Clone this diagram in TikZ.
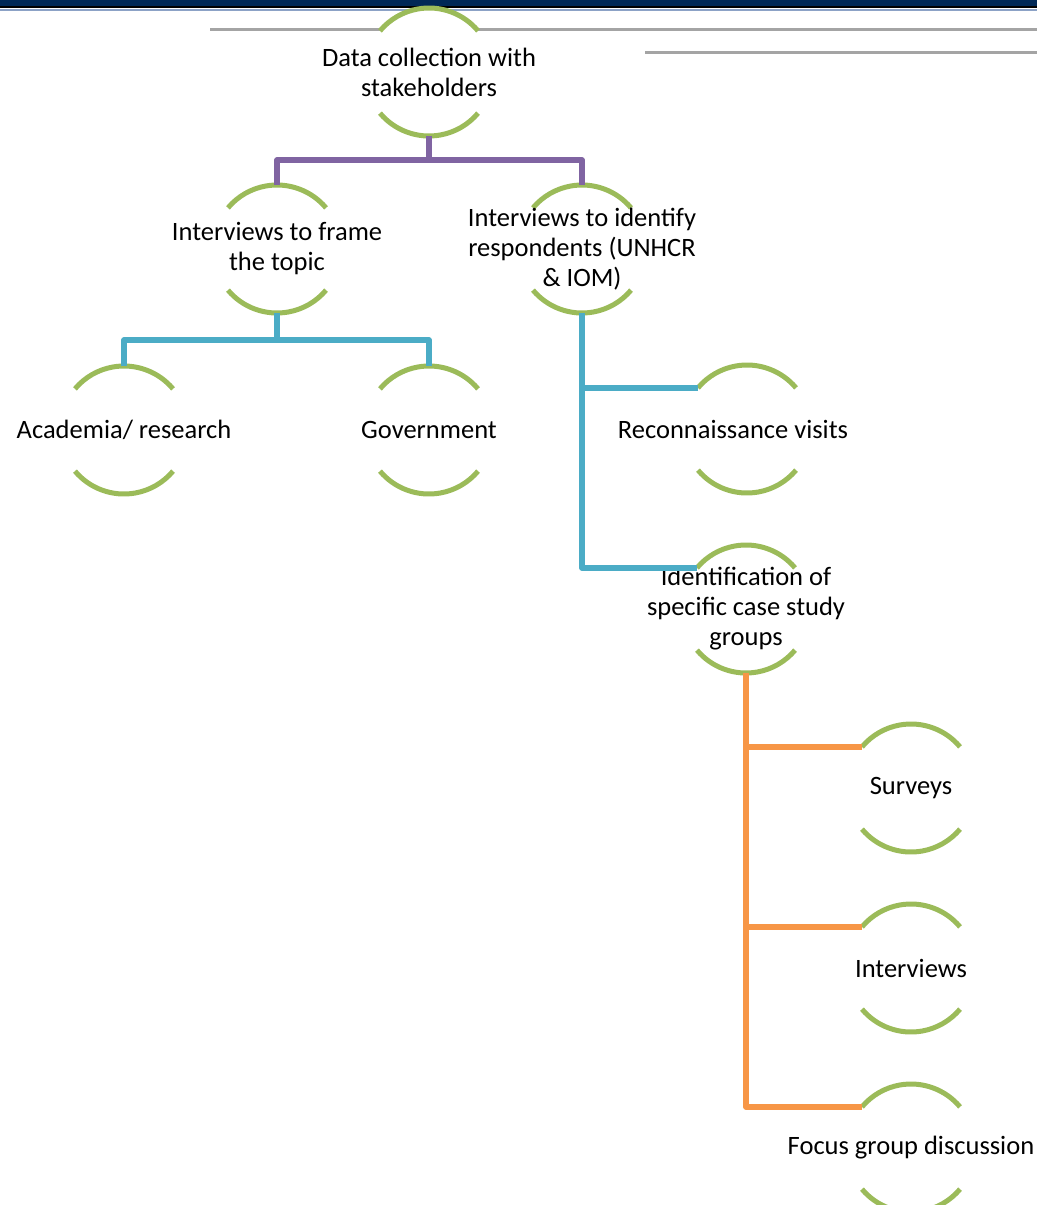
\documentclass[tikz,border=0pt]{standalone}
\usepackage{fontspec}
\setmainfont{Carlito}
\usepackage{tikz}
\usetikzlibrary{arrows.meta, calc}
\definecolor{ringgreen}{HTML}{9BBB59}
\definecolor{treepurple}{HTML}{8064A2}
\definecolor{treeblue}{HTML}{4BACC6}
\definecolor{treeorange}{HTML}{F79646}
\definecolor{barnavy}{HTML}{002856}
\definecolor{barpale}{HTML}{8CA2C6}
\definecolor{rulegray}{HTML}{A4A4A4}
\tikzset{
  ring/.style={circle, minimum size=128pt, inner sep=0pt, outer sep=0pt, fill=white},
  lbl/.style={align=center, font=\fontsize{26.5}{30}\selectfont, inner sep=0pt},
  halfring/.style={ringgreen, line width=5pt},
  branch/.style={line width=5.5pt, line join=round},
  rule/.style={rulegray, line width=3pt}
}

\begin{document}
\begin{tikzpicture}[x=1pt,y=1pt]
  \useasboundingbox (0,0) rectangle (1037,-1205);
  \fill[barnavy] (0,0) rectangle (1037,-6);
  \fill[black] (0,-6) rectangle (1037,-8);
  \fill[barpale] (0,-8.5) rectangle (1037,-10.5);
  \draw[rule] (210,-29) -- (1037,-29);
  \draw[rule] (645,-52) -- (1037,-52);

  \node[ring] (dcs) at (429,-72) {};
  \node[ring] (frame) at (277,-249) {};
  \node[ring] (ident) at (582,-249) {};
  \node[ring] (acad) at (124,-430) {};
  \node[ring] (gov) at (429,-430) {};
  \node[ring] (recon) at (747,-429) {};
  \node[ring] (cases) at (746,-609) {};
  \node[ring] (surv) at (911,-788) {};
  \node[ring] (intv) at (911,-968) {};
  \node[ring] (focus) at (911,-1148) {};

  \foreach \n in {dcs,frame,ident,acad,gov,recon,cases,surv,intv,focus}{
    \draw[halfring] (\n.40) arc[start angle=40, end angle=140, radius=64];
    \draw[halfring] (\n.220) arc[start angle=220, end angle=320, radius=64];
  }

  \node[lbl] (dcstxt) at (dcs) {Data collection with\\stakeholders};
  \node[lbl] (frametxt) at (frame) {Interviews to frame\\the topic};
  \node[lbl] (identtxt) at (ident) {Interviews to identify\\respondents (UNHCR\\\& IOM)};
  \node[lbl] (acadtxt) at (acad) {Academia/ research};
  \node[lbl] (govtxt) at (gov) {Government};
  \node[lbl] (recontxt) at ([xshift=-14]recon.center) {Reconnaissance visits};
  \node[lbl] (casestxt) at (cases) {Identification of\\specific case study\\groups};
  \node[lbl] (survtxt) at (surv) {Surveys};
  \node[lbl] (intvtxt) at (intv) {Interviews};
  \node[lbl] (focustxt) at (focus) {Focus group discussion};

  \draw[branch, treepurple] (dcs.south) -- ++(0,-24) -| (frame.north);
  \draw[branch, treepurple] (dcs.south) -- ++(0,-24) -| (ident.north);
  \draw[branch, treeblue] (frame.south) -- ++(0,-27) -| (acad.north);
  \draw[branch, treeblue] (frame.south) -- ++(0,-27) -| (gov.north);
  \draw[branch, treeblue] (ident.south) |- (recon.140);
  \draw[branch, treeblue] (ident.south) |- (cases.140);
  \draw[branch, treeorange] (cases.south) |- (surv.140);
  \draw[branch, treeorange] (cases.south) |- (intv.140);
  \draw[branch, treeorange] (cases.south) |- (focus.140);
\end{tikzpicture}
\end{document}
